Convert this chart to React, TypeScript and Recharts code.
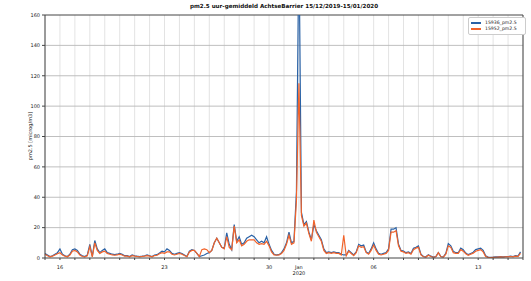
import { LineChart, Line, XAxis, YAxis, CartesianGrid, ReferenceLine } from 'recharts';

// 4-hourly samples from 15/12/2019 00:00, six per day
const s15936 = [
  3, 2, 1, 1.5, 2.5, 3.5, // dec 15
  6, 2.5, 1.5, 1, 2.5, 5.5,
  6, 5, 2.5, 1.5, 1, 2,
  9, 1, 11.5, 6, 3.5, 5,
  6, 3.5, 3, 2.5, 2.2, 2.5,
  3, 2.5, 1.5, 1.5, 1, 2, // dec 20
  1.5, 1.2, 1, 1.2, 1.5, 2,
  1.5, 1, 2, 2.2, 3.3, 4.5,
  4, 6, 5, 3, 2.5, 3,
  3.5, 3, 2, 1, 4.5, 5.5,
  5, 3, 1, 1.5, 2, 3, // dec 25
  3.5, 5, 10, 13, 10, 7,
  6.5, 16.5, 9, 5.5, 22, 11,
  14, 9, 10, 13, 14, 15,
  14, 12, 10, 11, 10, 14,
  9, 5, 2.5, 2, 2.2, 3.5, // dec 30
  6, 10, 17, 10, 11, 44,
  210, 30, 22, 24, 17, 12, // jan 1
  22, 18, 15, 12, 6, 3.5,
  4, 3.5, 4, 3.5, 3.5, 2.5,
  2, 2, 5, 3.5, 2, 4,
  9, 8, 8.5, 4, 3, 6, // jan 5
  10, 6, 3, 2.5, 3, 3.5,
  6, 19, 19, 20, 9, 5,
  4.5, 3.5, 4, 3, 6.5, 7,
  8, 2.5, 1, 0.8, 2.2, 1.2,
  0.6, 1, 3.5, 1, 0.8, 3, // jan 10
  9.5, 8, 4.5, 3.5, 3.5, 6.5,
  5.5, 3.3, 2.2, 3, 3.8, 5.5,
  6, 6.5, 5, 1.5, 0.6, 0.5,
  0.6, 0.8, 0.8, 1, 0.8, 1,
  1, 1.2, 1, 1.5, 1.2, 4, // jan 15
];

const s15952 = [
  2.5, 1.5, 0.8, 1.2, 2, 2.8, // dec 15
  3.5, 2, 1.2, 0.8, 2, 4.5,
  5, 4, 2, 1, 0.8, 1.5,
  7.5, 0.8, 10, 5, 3, 4,
  4.5, 3, 2.5, 2, 1.8, 2,
  2.5, 2, 1.2, 1.2, 0.8, 1.5, // dec 20
  1.2, 1, 0.8, 1, 1.2, 1.6,
  1.2, 0.8, 1.6, 1.8, 2.8, 3.5,
  3, 4, 4, 2.5, 2, 2.5,
  3, 2.5, 1.6, 0.8, 4, 5,
  5, 3, 1, 5.5, 6, 5.5, // dec 25
  3.5, 5, 10, 13, 10, 7,
  6, 14, 7, 5.5, 21, 10,
  12, 8, 9, 11, 12, 12,
  12, 10, 9, 9.5, 9, 11,
  8, 4, 2, 1.8, 2, 3, // dec 30
  5, 9, 15, 9, 10, 38,
  115, 28, 21, 23, 16, 11, // jan 1
  25, 17, 14, 11, 5, 3,
  3.5, 3, 3.5, 3, 3, 2,
  15, 1.5, 4.5, 3, 1.5, 3.5,
  8, 7, 7.5, 3.5, 2.5, 5, // jan 5
  8.5, 5, 2.5, 2, 2.5, 3,
  5, 17, 17, 18, 8, 4.5,
  4, 3, 3.5, 2.5, 5.5, 6.5,
  7, 2, 0.8, 0.6, 1.8, 1,
  0.5, 0.8, 3.5, 0.8, 0.6, 2.5, // jan 10
  8, 7, 3.5, 3, 3, 5.5,
  4.5, 2.8, 1.8, 2.5, 3.2, 4.5,
  5, 5.5, 4, 1, 0.4, 0.3,
  0.4, 0.5, 0.6, 0.7, 0.6, 0.8,
  0.8, 1, 0.8, 1.2, 1, 3, // jan 15
];

// day gridlines (hours since 15/12 00:00) and the labelled ones
const dayTicks = Array.from({ length: 33 }, (_, i) => i * 24);
const tickLabels: Record<number, string> = { 24: '16', 192: '23', 360: '30', 408: 'Jan|2020', 528: '06', 696: '13' };
const yTicks = [0, 20, 40, 60, 80, 100, 120, 140, 160];

const data = s15936.map((v, i) => ({ hour: i * 4, a: v, b: s15952[i] }));

const BLUE = '#2a62a6';
const ORANGE = '#f2632a';
const FONT = 'DejaVu Sans, sans-serif';

function XTick(props: any) {
  const { x, y, payload } = props;
  const lbl = tickLabels[payload.value];
  if (!lbl) return null;
  const lines = lbl.split('|');
  return (
    <text x={x} y={y + 7} textAnchor="middle" fontSize={5} fontFamily={FONT} fill="#222">
      {lines.map((l, i) => (
        <tspan key={i} x={x} dy={i === 0 ? 0 : 6}>{l}</tspan>
      ))}
    </text>
  );
}

export default function App() {
  return (
    <div style={{ position: 'absolute', left: 0, top: 0, width: 531, height: 281, background: '#fff', fontFamily: FONT }}>
      <div style={{ position: 'absolute', left: 45, width: 478, top: 3, textAlign: 'center', fontSize: 5.6, fontWeight: 'bold', color: '#111' }}>
        pm2.5 uur-gemiddeld AchtseBarrier 15/12/2019-15/01/2020
      </div>
      <div style={{ position: 'absolute', left: 30, top: 136, fontSize: 5, color: '#222', transform: 'translate(-50%, -50%) rotate(-90deg)', whiteSpace: 'nowrap' }}>
        pm2.5 [microg/m3]
      </div>
      <LineChart width={531} height={281} data={data} margin={{ top: 15, right: 8, left: 15, bottom: 0 }}>
        <CartesianGrid horizontal={false} stroke="#dcdcdc" strokeWidth={0.8} />
        <XAxis
          dataKey="hour"
          type="number"
          domain={[0, 768]}
          ticks={dayTicks}
          interval={0}
          height={23}
          tick={<XTick />}
          tickSize={2}
          stroke="#444"
          tickLine={{ stroke: '#444' }}
        />
        <YAxis
          type="number"
          domain={[0, 160]}
          ticks={yTicks}
          allowDataOverflow
          width={30}
          tickSize={3}
          stroke="#444"
          tick={{ fontSize: 5, fill: '#222', fontFamily: FONT }}
        />
        {yTicks.slice(1, -1).map((t) => (
          <ReferenceLine key={t} y={t} stroke="#b8b8b8" strokeWidth={0.9} />
        ))}
        <ReferenceLine y={160} stroke="#444" />
        <ReferenceLine x={768} stroke="#444" />
        <Line type="linear" dataKey="a" stroke={BLUE} strokeWidth={1.2} dot={false} isAnimationActive={false} />
        <Line type="linear" dataKey="b" stroke={ORANGE} strokeWidth={1.2} dot={false} isAnimationActive={false} />
      </LineChart>
      <div style={{ position: 'absolute', left: 468, top: 17, width: 52, border: '1px solid #ccc', borderRadius: 2, background: '#fff', padding: '2px 2px', fontSize: 4.6, color: '#222', lineHeight: '6px' }}>
        {[['15936_pm2.5', BLUE], ['15952_pm2.5', ORANGE]].map(([name, c]) => (
          <div key={name} style={{ display: 'flex', alignItems: 'center' }}>
            <span style={{ display: 'inline-block', width: 10, height: 1.2, background: c, marginRight: 4 }} />
            {name}
          </div>
        ))}
      </div>
    </div>
  );
}
